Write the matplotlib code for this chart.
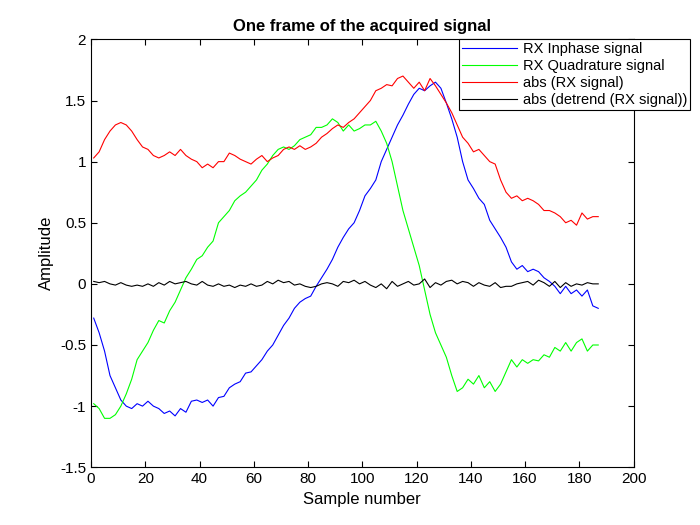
import matplotlib
matplotlib.use("Agg")
import matplotlib.pyplot as plt

samples = list(range(1, 188, 2))
inphase = [-0.28,-0.4,-0.55,-0.75,-0.85,-0.95,-1.0,-1.02,-0.98,-1.0,-0.96,-1.0,-1.02,-1.06,-1.04,-1.08,-1.02,-1.05,-0.96,-0.95,-0.97,-0.95,-1.0,-0.93,-0.92,-0.85,-0.82,-0.8,-0.73,-0.72,-0.67,-0.62,-0.55,-0.5,-0.42,-0.34,-0.28,-0.2,-0.15,-0.12,-0.1,-0.02,0.05,0.12,0.2,0.3,0.38,0.45,0.5,0.6,0.72,0.78,0.85,1.0,1.1,1.2,1.3,1.38,1.47,1.55,1.6,1.58,1.62,1.65,1.6,1.48,1.35,1.2,1.0,0.85,0.78,0.7,0.65,0.52,0.45,0.38,0.3,0.18,0.12,0.15,0.1,0.12,0.1,0.05,0.02,-0.02,-0.08,-0.02,-0.08,-0.05,-0.1,-0.05,-0.18,-0.2]
quad = [-0.98,-1.02,-1.1,-1.1,-1.07,-1.0,-0.9,-0.78,-0.62,-0.55,-0.48,-0.38,-0.3,-0.32,-0.22,-0.15,-0.05,0.05,0.12,0.2,0.23,0.3,0.35,0.5,0.55,0.6,0.68,0.72,0.75,0.8,0.85,0.93,0.98,1.05,1.1,1.12,1.1,1.13,1.18,1.2,1.22,1.28,1.28,1.3,1.35,1.32,1.25,1.3,1.25,1.27,1.3,1.3,1.33,1.25,1.15,1.0,0.8,0.6,0.45,0.3,0.15,-0.05,-0.25,-0.4,-0.5,-0.6,-0.75,-0.88,-0.85,-0.78,-0.82,-0.75,-0.85,-0.8,-0.88,-0.82,-0.72,-0.62,-0.68,-0.62,-0.65,-0.62,-0.63,-0.58,-0.6,-0.52,-0.55,-0.48,-0.55,-0.48,-0.45,-0.55,-0.5,-0.5]
absval = [1.03,1.08,1.18,1.25,1.3,1.32,1.3,1.25,1.18,1.12,1.1,1.05,1.03,1.05,1.08,1.05,1.1,1.05,1.02,1.0,0.95,0.98,0.95,1.0,1.0,1.07,1.05,1.02,1.0,0.98,1.02,1.05,1.0,1.03,1.05,1.1,1.12,1.1,1.13,1.1,1.12,1.15,1.2,1.23,1.27,1.3,1.28,1.32,1.35,1.4,1.45,1.5,1.58,1.6,1.63,1.62,1.68,1.7,1.65,1.6,1.65,1.58,1.68,1.62,1.55,1.48,1.4,1.3,1.2,1.15,1.08,1.1,1.05,1.0,0.98,0.85,0.75,0.7,0.72,0.68,0.7,0.68,0.65,0.6,0.6,0.58,0.55,0.5,0.52,0.48,0.58,0.53,0.55,0.55]
detr = [0.02,0.01,0.02,0.0,-0.01,0.01,-0.01,-0.02,-0.01,-0.02,0.0,-0.02,0.01,-0.01,0.02,0.0,0.01,0.02,0.0,-0.01,0.02,-0.01,-0.02,0.0,-0.02,-0.01,-0.03,-0.01,-0.02,0.0,-0.02,-0.01,0.02,0.0,0.03,0.01,0.02,-0.01,0.0,-0.02,-0.03,-0.02,0.0,0.01,0.0,-0.02,0.02,0.01,0.03,0.0,0.02,-0.01,-0.03,0.0,-0.04,0.02,-0.02,0.0,0.02,-0.01,0.0,0.04,-0.03,0.01,-0.01,0.02,0.03,0.0,0.02,0.01,-0.02,0.01,-0.01,-0.02,0.01,-0.03,-0.02,-0.02,0.0,0.01,0.02,-0.01,0.03,0.01,-0.02,0.02,-0.03,0.01,-0.02,0.0,-0.01,0.01,0.0,0.0]

plt.rcParams['font.family'] = ['Liberation Sans', 'DejaVu Sans']
fig = plt.figure(figsize=(7, 5.25), dpi=100)
ax = fig.add_axes([0.13, 0.11, 0.775, 0.815])
ax.plot(samples, inphase, color='#0000ff', lw=0.8, label='RX Inphase signal')
ax.plot(samples, quad, color='#00ff00', lw=0.8, label='RX Quadrature signal')
ax.plot(samples, absval, color='#ff0000', lw=0.8, label='abs (RX signal)')
ax.plot(samples, detr, color='black', lw=0.8, label='abs (detrend (RX signal))')
ax.set_xlim(0, 200)
ax.set_ylim(-1.5, 2)
ax.set_xticks(range(0, 201, 20))
ax.set_yticks([-1.5,-1,-0.5,0,0.5,1,1.5,2])
ax.set_yticklabels(['-1.5','-1','-0.5','0','0.5','1','1.5','2'])
ax.tick_params(direction='in', top=True, right=True, labelsize=11, length=4)
ax.set_xlabel('Sample number', fontsize=12)
ax.set_ylabel('Amplitude', fontsize=12)
ax.set_title('One frame of the acquired signal', fontsize=12, fontweight='bold')
leg = ax.legend(loc='upper right', bbox_to_anchor=(1.105, 1.0), fontsize=10.5, fancybox=False,
                edgecolor='black', framealpha=1, borderaxespad=0, handlelength=3.8,
                handletextpad=0.4, borderpad=0.2, labelspacing=0.2)
leg.get_frame().set_linewidth(0.8)
fig.savefig('out.png')
